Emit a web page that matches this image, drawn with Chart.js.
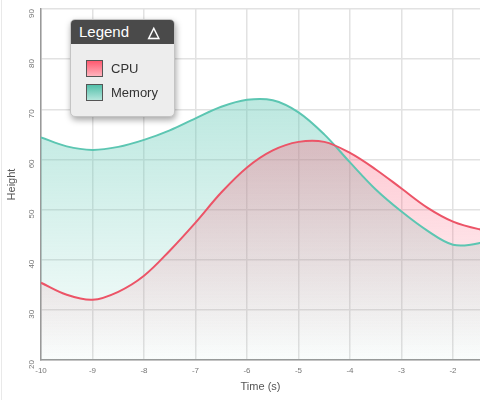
<!DOCTYPE html>
<html lang="en">
<head>
  <meta charset="UTF-8" />
  <title>CPU / Memory</title>
  <script src="https://cdn.jsdelivr.net/npm/chart.js"></script>
  <style>
    body { margin: 0; background: #fff; font-family: "Liberation Sans", Arial, sans-serif; }
    #wrap { position: relative; width: 480px; height: 400px; overflow: hidden; }
    #edge { position: absolute; left: 1px; top: 0; width: 1px; height: 400px; background: #e9e9e9; }
    #legend {
      position: absolute; left: 70px; top: 19px; width: 105px; height: 98px;
      background: #ededed; border: 1px solid #c4c4c4; border-radius: 5px;
      box-shadow: 1px 3px 6px rgba(0,0,0,0.35); overflow: hidden; box-sizing: border-box;
    }
    #legend .head {
      height: 24px; background: #4a4a4a; color: #fff; font-size: 15px;
      line-height: 24px; padding-left: 8px; position: relative;
    }
    #legend .head span { position: absolute; right: 14px; top: 0; font-size: 15px; font-weight: bold; }
    #legend .item { position: absolute; left: 15px; height: 17px; font-size: 13px; color: #333; line-height: 17px; }
    #legend .sw { display: inline-block; width: 15px; height: 15px; border: 1px solid #555; vertical-align: top; margin-right: 8px; }
  </style>
</head>
<body>
  <div id="wrap">
    <canvas id="chart" width="480" height="400"></canvas>
    <div id="edge"></div>
    <div id="legend">
      <div class="head">Legend<span>&#9651;</span></div>
      <div class="item" style="top:40px"><span class="sw" style="background:linear-gradient(#ff5a70,#ffb3bd)"></span>CPU</div>
      <div class="item" style="top:64px"><span class="sw" style="background:linear-gradient(#52bfa9,#b5e6dc)"></span>Memory</div>
    </div>
  </div>

  <script>
    // values every half second
    const times = [-10, -9.5, -9, -8.5, -8, -7.5, -7, -6.5, -6, -5.5, -5, -4.5, -4, -3.5, -3, -2.5, -2, -1.5, -1];
    const cpu = [35.4, 33, 32, 33.6, 36.8, 41.8, 47.4, 53.4, 58.4, 61.8, 63.5, 63.5, 61.3, 58, 54.2, 50.4, 47.6, 46.1, 45.3];
    const memory = [64.4, 62.6, 61.9, 62.5, 63.9, 65.8, 68.2, 70.5, 71.9, 71.8, 69.4, 65, 59.4, 54, 49.6, 45.8, 43, 43.3, 45.2];
    const yTicks = [20, 30, 40, 50, 60, 70, 80, 90];

    function fade(rgb, top, bottom) {
      return ctx => {
        const area = ctx.chart.chartArea;
        if (!area) return null;
        const g = ctx.chart.ctx.createLinearGradient(0, area.top, 0, area.bottom);
        g.addColorStop(0, `rgba(${rgb},${top})`);
        g.addColorStop(1, `rgba(${rgb},${bottom})`);
        return g;
      };
    }

    Chart.defaults.font.family = '"Liberation Sans", Arial, sans-serif';

    new Chart(document.getElementById('chart'), {
      type: 'line',
      data: {
        datasets: [{
          label: 'CPU',
          data: times.map((t, i) => ({ x: t, y: cpu[i] })),
          borderColor: '#ec5467',
          backgroundColor: fade('252,85,115', 0.52, 0.0),
          borderWidth: 2,
          fill: 'origin',
          tension: 0.35,
          pointRadius: 0
        }, {
          label: 'Memory',
          data: times.map((t, i) => ({ x: t, y: memory[i] })),
          borderColor: '#5cc6b2',
          backgroundColor: fade('95,200,180', 0.55, 0.03),
          borderWidth: 2,
          fill: 'origin',
          tension: 0.35,
          pointRadius: 0
        }]
      },
      options: {
        responsive: false,
        animation: false,
        layout: { padding: 0 },
        plugins: {
          legend: { display: false },
          tooltip: { enabled: false },
          filler: { drawTime: 'beforeDatasetsDraw' }
        },
        scales: {
          x: {
            type: 'linear',
            min: -10,
            max: -1.476,
            afterFit: s => { s.height = 40; },
            ticks: { stepSize: 1, includeBounds: false, color: '#777', font: { size: 8 }, padding: 6 },
            grid: { color: '#e2e2e2', lineWidth: 1.5, drawTicks: false },
            border: { color: '#999', width: 1.5 },
            title: { display: true, text: 'Time (s)', color: '#555', font: { size: 11 }, padding: { top: 4, bottom: 6 } }
          },
          y: {
            min: yTicks[0],
            max: yTicks[yTicks.length - 1],
            afterFit: s => { s.width = 41; s.paddingTop = 9; s.paddingBottom = 0; },
            afterBuildTicks: s => { s.ticks = yTicks.map(v => ({ value: v })); },
            ticks: { color: '#777', font: { size: 8 }, minRotation: 90, maxRotation: 90, padding: 9 },
            grid: { color: '#e2e2e2', lineWidth: 1.5, drawTicks: false },
            border: { color: '#999', width: 1.5 },
            title: { display: true, text: 'Height', color: '#555', font: { size: 11 }, padding: { top: 5, bottom: 4 } }
          }
        }
      }
    });
  </script>
</body>
</html>
